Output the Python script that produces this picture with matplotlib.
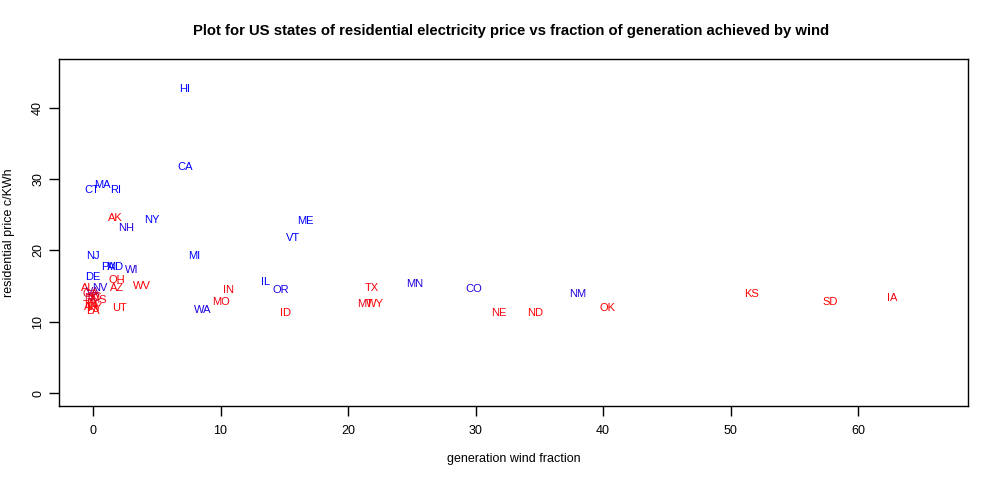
import matplotlib
matplotlib.use("Agg")
import matplotlib.pyplot as plt

# state labels, wind fraction (%), residential price (c/KWh)
states = ["HI", "CA", "CT", "MA", "RI", "AK", "NH", "NY", "NJ", "MI",
          "ME", "VT", "PA", "MD", "WI", "DE", "OH", "AZ", "WV", "AL",
          "NV", "VA", "GA", "SC", "NC", "MS", "FL", "TN", "KY", "AR",
          "LA", "UT", "IN", "MO", "WA", "IL", "OR", "ID", "TX", "MT",
          "WY", "MN", "CO", "NE", "ND", "NM", "OK", "KS", "SD", "IA"]
wind = [7.15, 7.23, -0.1, 0.7, 1.75, 1.75, 2.56, 4.65, 0.0, 7.94,
        16.65, 15.7, 1.2, 1.67, 3.06, 0.0, 1.83, 1.9, 3.87, -0.4,
        0.57, 0.0, -0.2, 0.1, -0.1, 0.4, 0.0, -0.2, 0.1, -0.1,
        0.0, 2.07, 10.6, 10.06, 8.64, 13.5, 14.7, 15.07, 21.9, 21.36,
        22.1, 25.2, 29.83, 31.84, 34.66, 38.0, 40.33, 51.6, 57.8, 62.7]
price = [42.66, 31.75, 28.5, 29.2, 28.5, 24.6, 23.16, 24.25, 19.2, 19.2,
         24.1, 21.7, 17.7, 17.7, 17.2, 16.3, 15.85, 14.7, 15.0, 14.7,
         14.7, 14.2, 13.9, 13.5, 13.3, 13.1, 12.6, 12.3, 12.0, 12.1,
         11.5, 11.9, 14.45, 12.77, 11.65, 15.6, 14.45, 11.2, 14.73, 12.45,
         12.45, 15.25, 14.63, 11.27, 11.27, 13.93, 11.97, 13.9, 12.77, 13.3]
# 1 = democratic (blue), 0 = republican (red), in between = mixed
lean = [1.0, 1.0, 1.0, 1.0, 1.0, 0.0, 0.85, 1.0, 1.0, 1.0,
        1.0, 1.0, 1.0, 1.0, 0.85, 1.0, 0.0, 0.05, 0.0, 0.0,
        0.85, 0.6, 0.1, 0.1, 0.2, 0.05, 0.15, 0.0, 0.0, 0.0,
        0.0, 0.0, 0.05, 0.05, 0.9, 1.0, 0.9, 0.0, 0.05, 0.1,
        0.0, 0.85, 0.85, 0.05, 0.0, 0.85, 0.0, 0.0, 0.0, 0.05]

plt.rcParams["font.family"] = ["Liberation Sans", "DejaVu Sans"]

fig = plt.figure(figsize=(9.99, 4.8), dpi=100)
ax = fig.add_axes([0.0594, 0.1542, 0.9099, 0.7223])

for s, x, y, l in zip(states, wind, price, lean):
    col = (1 - l, 0.0, l)
    ax.text(x, y, s, color=col, fontsize=8, ha="center", va="center")

ax.set_xlim(-2.64, 68.64)
ax.set_ylim(-1.8, 46.8)
ax.set_xticks([0, 10, 20, 30, 40, 50, 60])
ax.set_yticks([0, 10, 20, 30, 40])
ax.tick_params(direction="out", length=7, width=1, labelsize=9)
ax.tick_params(axis="x", pad=7)
ax.tick_params(axis="y", pad=4)
for lab in ax.get_yticklabels():
    lab.set_rotation(90)
    lab.set_va("center")
for sp in ax.spines.values():
    sp.set_linewidth(1)

ax.set_xlabel("generation wind fraction", fontsize=9, labelpad=11)
ax.set_ylabel("residential price c/KWh", fontsize=9, labelpad=12)
fig.text(0.512, 0.935, "Plot for US states of residential electricity price vs fraction of generation achieved by wind",
         ha="center", va="center", fontsize=10.7, fontweight="bold")

fig.savefig("out.png", dpi=100)
